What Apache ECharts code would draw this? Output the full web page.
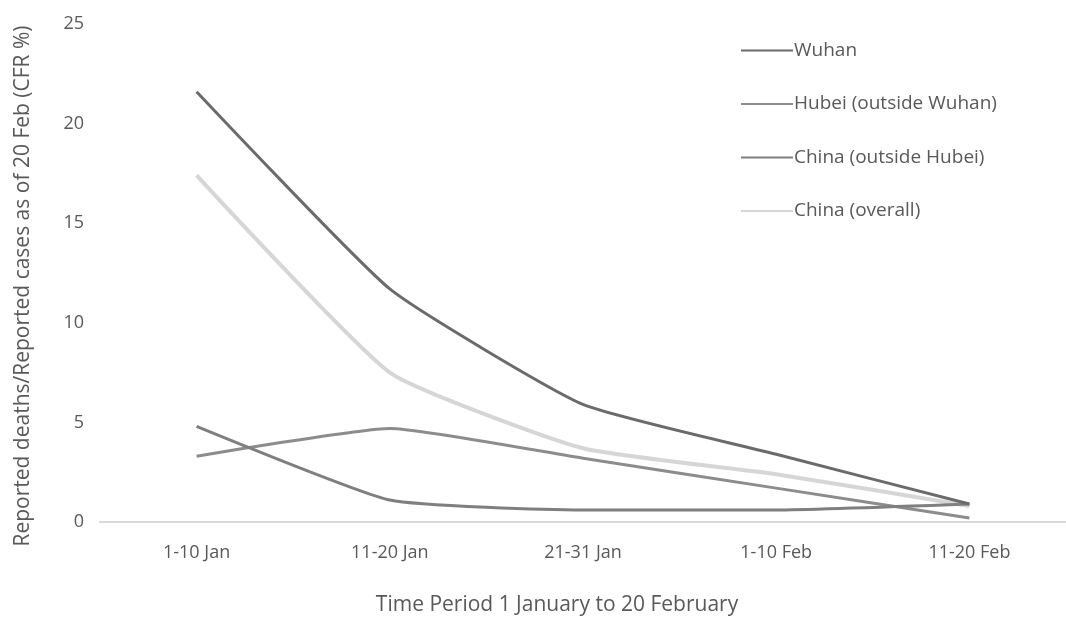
<!DOCTYPE html>
<html>
<head>
<meta charset="utf-8">
<title>Case fatality ratio by period</title>
<script src="https://cdn.jsdelivr.net/npm/echarts@6/dist/echarts.min.js"></script>
<style>
  html, body { margin: 0; padding: 0; background: #ffffff; }
  #chart { width: 1066px; height: 621px; }
</style>
</head>
<body>
<div id="chart"></div>
<script>
// Reporting periods (x axis)
var periods = ['1-10 Jan', '11-20 Jan', '21-31 Jan', '1-10 Feb', '11-20 Feb'];

// Reported deaths / reported cases as of 20 Feb (CFR %)
var wuhan = [21.6, 11.7, 5.9, 3.4, 0.9];
var hubeiOutsideWuhan = [3.3, 4.7, 3.2, 1.7, 0.2];
var chinaOutsideHubei = [4.8, 1.1, 0.6, 0.6, 0.9];
var chinaOverall = [17.4, 7.5, 3.7, 2.4, 0.8];

// Y axis ticks
var yMin = 0, yMax = 25, yStep = 5;

var font = 'Open Sans';
var textGray = '#595959';

var chart = echarts.init(document.getElementById('chart'));

function lineSeries(name, data, color, width) {
  return {
    name: name,
    type: 'line',
    data: data,
    smooth: 0.15,
    symbol: 'none',
    lineStyle: { color: color, width: width },
    itemStyle: { color: color }
  };
}

chart.setOption({
  animation: false,
  backgroundColor: '#ffffff',
  title: {
    text: 'Time Period 1 January to 20 February',
    left: 552,
    textAlign: 'center',
    top: 590,
    textStyle: { fontFamily: font, fontSize: 21, fontWeight: 'normal', color: textGray }
  },
  legend: {
    orient: 'vertical',
    left: 736,
    top: 36,
    itemWidth: 52,
    itemHeight: 20,
    itemGap: 34.5,
    icon: 'path://M0,9 L52,9 L52,11 L0,11 Z',
    textStyle: { fontFamily: font, fontSize: 19, color: textGray, padding: [0, 0, 0, -4] },
    data: ['Wuhan', 'Hubei (outside Wuhan)', 'China (outside Hubei)', 'China (overall)']
  },
  grid: { left: 100, right: 0, top: 24, bottom: 99 },
  xAxis: {
    type: 'category',
    data: periods,
    boundaryGap: true,
    axisLine: { show: true, lineStyle: { color: '#d9d9d9', width: 2 } },
    axisTick: { show: false },
    axisLabel: { margin: 22, fontFamily: font, fontSize: 18, color: textGray }
  },
  yAxis: {
    type: 'value',
    min: yMin,
    max: yMax,
    interval: yStep,
    name: 'Reported deaths/Reported cases as of 20 Feb (CFR %)',
    nameLocation: 'middle',
    nameGap: 66,
    nameTextStyle: { fontFamily: font, fontSize: 21, color: textGray, padding: [0, 26, 0, 0] },
    axisLine: { show: false },
    axisTick: { show: false },
    splitLine: { show: false },
    axisLabel: { margin: 16, fontFamily: font, fontSize: 18, color: textGray }
  },
  series: [
    lineSeries('China (overall)', chinaOverall, '#d6d6d6', 4),
    lineSeries('Hubei (outside Wuhan)', hubeiOutsideWuhan, '#8c8c8c', 3),
    lineSeries('China (outside Hubei)', chinaOutsideHubei, '#7f7f7f', 3),
    lineSeries('Wuhan', wuhan, '#6b6b6b', 3)
  ]
});
</script>
</body>
</html>
